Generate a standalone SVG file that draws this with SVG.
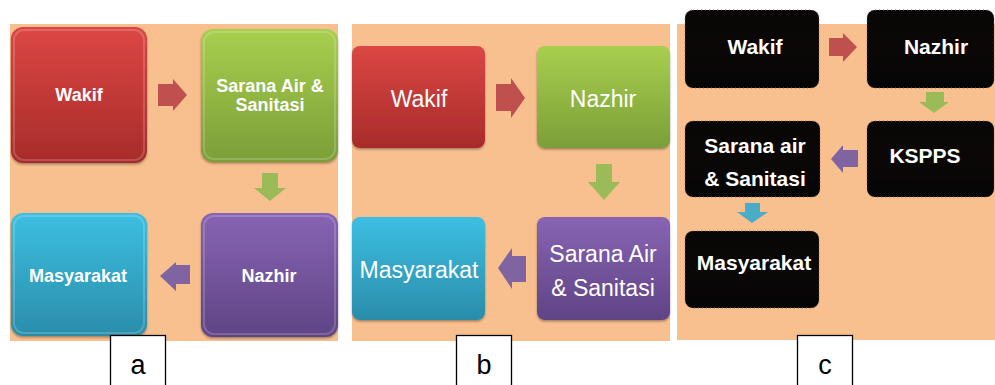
<svg xmlns="http://www.w3.org/2000/svg" width="995" height="385" viewBox="0 0 995 385">
  <defs>
    <linearGradient id="gRed" x1="0" y1="0" x2="0" y2="1">
      <stop offset="0" stop-color="#dc4744"/>
      <stop offset="1" stop-color="#a72b2a"/>
    </linearGradient>
    <linearGradient id="gGreen" x1="0" y1="0" x2="0" y2="1">
      <stop offset="0" stop-color="#a8cf4e"/>
      <stop offset="1" stop-color="#7c9e38"/>
    </linearGradient>
    <linearGradient id="gPurple" x1="0" y1="0" x2="0" y2="1">
      <stop offset="0" stop-color="#8864b3"/>
      <stop offset="1" stop-color="#5f4485"/>
    </linearGradient>
    <linearGradient id="gCyan" x1="0" y1="0" x2="0" y2="1">
      <stop offset="0" stop-color="#3cbfe2"/>
      <stop offset="1" stop-color="#2a8daa"/>
    </linearGradient>
    <linearGradient id="gBlack" x1="0" y1="0" x2="0" y2="1">
      <stop offset="0" stop-color="#080606"/>
      <stop offset="0.5" stop-color="#0b0707"/>
      <stop offset="1" stop-color="#050505"/>
    </linearGradient>
    <filter id="shadow" x="-10%" y="-10%" width="120%" height="125%">
      <feDropShadow dx="0" dy="1.5" stdDeviation="1.2" flood-color="#000" flood-opacity="0.35"/>
    </filter>
  </defs>
  <style>
    .bg { fill: #f9c08f; }
    .box { filter: url(#shadow); }
    .bevel { fill: none; stroke: #ffffff; stroke-opacity: 0.18; stroke-width: 2; }
    .dark { fill: url(#gBlack); stroke: #8a6b4c; stroke-width: 1; stroke-dasharray: 1 3; }
    .ta { font-family: "Liberation Sans", Arial, sans-serif; font-weight: bold; font-size: 18px; fill: #ffffff; text-anchor: middle; }
    .tb { font-family: "Liberation Sans", Arial, sans-serif; font-size: 23px; fill: #ffffff; text-anchor: middle; }
    .tc { font-family: "Liberation Sans", Arial, sans-serif; font-weight: bold; font-size: 21px; fill: #ffffff; text-anchor: middle; }
    .lblbox { fill: #ffffff; stroke: #000000; stroke-width: 1.3; }
    .lbl { font-family: "Liberation Sans", Arial, sans-serif; font-size: 27px; fill: #000000; text-anchor: middle; }
    .aRed { fill: #c0504d; }
    .aGreen { fill: #9bbb59; }
    .aPurple { fill: #8064a2; }
    .aBlue { fill: #4bacc6; }
  </style>

  <rect width="995" height="385" fill="#ffffff"/>

  <!-- panel backgrounds -->
  <rect class="bg" x="10" y="24" width="328" height="317"/>
  <rect class="bg" x="352" y="24" width="318" height="317"/>
  <rect class="bg" x="677" y="24" width="318" height="316"/>

  <!-- panel a -->
  <g id="a-wakif">
    <rect class="box" x="11" y="27" width="136" height="136" rx="12" fill="url(#gRed)"/>
    <rect class="bevel" x="14" y="30" width="130" height="130" rx="10"/>
    <text class="ta" x="79" y="101">Wakif</text>
  </g>
  <g id="a-sarana">
    <rect class="box" x="201" y="29" width="137" height="133" rx="12" fill="url(#gGreen)"/>
    <rect class="bevel" x="204" y="32" width="131" height="127" rx="10"/>
    <text class="ta" x="270" y="92">Sarana Air &amp;</text>
    <text class="ta" x="270" y="111">Sanitasi</text>
  </g>
  <g id="a-nazhir">
    <rect class="box" x="201" y="213" width="137" height="124" rx="12" fill="url(#gPurple)"/>
    <rect class="bevel" x="204" y="216" width="131" height="118" rx="10"/>
    <text class="ta" x="269" y="282">Nazhir</text>
  </g>
  <g id="a-masyarakat">
    <rect class="box" x="11" y="213" width="136" height="123" rx="12" fill="url(#gCyan)"/>
    <rect class="bevel" x="14" y="216" width="130" height="117" rx="10"/>
    <text class="ta" x="78" y="282">Masyarakat</text>
  </g>

  <!-- panel b -->
  <g id="b-wakif">
    <rect class="box" x="352" y="46" width="133" height="102" rx="8" fill="url(#gRed)"/>
    <text class="tb" x="419" y="107">Wakif</text>
  </g>
  <g id="b-nazhir">
    <rect class="box" x="537" y="46" width="133" height="102" rx="8" fill="url(#gGreen)"/>
    <text class="tb" x="603" y="107">Nazhir</text>
  </g>
  <g id="b-sarana">
    <rect class="box" x="537" y="217" width="133" height="103" rx="8" fill="url(#gPurple)"/>
    <text class="tb" x="603" y="262">Sarana Air</text>
    <text class="tb" x="603" y="296">&amp; Sanitasi</text>
  </g>
  <g id="b-masyarakat">
    <rect class="box" x="352" y="217" width="133" height="103" rx="8" fill="url(#gCyan)"/>
    <text class="tb" x="419" y="278">Masyarakat</text>
  </g>

  <!-- panel c -->
  <g id="c-wakif">
    <rect class="dark" x="685" y="10" width="134" height="78" rx="8"/>
    <text class="tc" x="755" y="54">Wakif</text>
  </g>
  <g id="c-nazhir">
    <rect class="dark" x="867" y="10" width="127" height="78" rx="8"/>
    <text class="tc" x="936" y="54">Nazhir</text>
  </g>
  <g id="c-kspps">
    <rect class="dark" x="867" y="121" width="127" height="76" rx="8"/>
    <text class="tc" x="925" y="163">KSPPS</text>
  </g>
  <g id="c-sarana">
    <rect class="dark" x="685" y="121" width="135" height="76" rx="8"/>
    <text class="tc" x="755" y="153">Sarana air</text>
    <text class="tc" x="755" y="186">&amp; Sanitasi</text>
  </g>
  <g id="c-masyarakat">
    <rect class="dark" x="685" y="231" width="134" height="77" rx="8"/>
    <text class="tc" x="754" y="270">Masyarakat</text>
  </g>

  <!-- block arrows between the steps -->
  <g id="connectors">
    <polygon class="aRed" points="158,84 173,84 173,79 187,95 173,111 173,106 158,106"/>
    <polygon class="aGreen" points="262,173 278,173 278,188 286,188 270,201 254,188 262,188"/>
    <polygon class="aPurple" points="190,265 176,265 176,262 160,276 176,291 176,284 190,284"/>

    <polygon class="aRed" points="496,84 511,84 511,78 525,98 511,118 511,111 496,111"/>
    <polygon class="aGreen" points="596,164 612,164 612,182 620,182 604,200 588,182 596,182"/>
    <polygon class="aPurple" points="526,256 512,256 512,248 498,268 512,289 512,282 526,282"/>

    <polygon class="aRed" points="829,38 843,38 843,33 857,47 843,62 843,56 829,56"/>
    <polygon class="aGreen" points="926,92 944,92 944,102 949,102 934,113 919,102 926,102"/>
    <polygon class="aPurple" points="858,150 843,150 843,145 831,159 843,173 843,167 858,167"/>
    <polygon class="aBlue" points="745,203 760,203 760,212 768,212 752,223 737,212 745,212"/>
  </g>

  <!-- panel captions -->
  <g id="label-a">
    <rect class="lblbox" x="110.5" y="335.5" width="55" height="60"/>
    <text class="lbl" x="138" y="374">a</text>
  </g>
  <g id="label-b">
    <rect class="lblbox" x="456.5" y="335.5" width="55" height="60"/>
    <text class="lbl" x="484" y="374">b</text>
  </g>
  <g id="label-c">
    <rect class="lblbox" x="797.5" y="335.5" width="55" height="60"/>
    <text class="lbl" x="825" y="374">c</text>
  </g>
</svg>
